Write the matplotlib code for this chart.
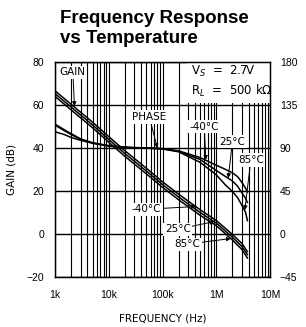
import matplotlib
matplotlib.use('Agg')
import matplotlib.pyplot as plt
from matplotlib.ticker import LogLocator, FixedLocator, NullFormatter

plt.rcParams['font.family'] = ['Liberation Sans', 'DejaVu Sans']

# gain (dB) vs frequency for three temperatures
freq = [1e3, 2e3, 5e3, 1e4, 2e4, 5e4, 1e5, 2e5, 5e5, 1e6, 2e6, 3e6, 3.8e6]
gain_m40 = [66.6, 60.3, 52.0, 45.3, 38.7, 30.6, 24.3, 18.5, 11.3, 6.3, -0.2, -4.4, -8.2]
gain_25 = [65.3, 59.0, 50.7, 44.0, 37.4, 29.3, 23.0, 17.2, 10.0, 5.1, -1.5, -5.8, -9.6]
gain_85 = [64.0, 57.7, 49.4, 42.7, 36.1, 28.0, 21.7, 15.9, 8.7, 3.9, -2.8, -7.2, -11.2]

# phase (deg)
ph_freq = [1e3, 1.5e3, 2e3, 3e3, 5e3, 1e4, 2e4, 5e4, 1e5, 2e5, 5e5, 1e6, 1.5e6, 2e6, 2.5e6, 3e6, 3.5e6, 3.8e6]
phase_m40 = [115, 109, 105, 99.5, 95.5, 92.5, 91, 90, 89.5, 87, 80, 72, 67.5, 64, 60, 54, 48, 44]
phase_25 = [114, 108, 104, 99, 95.2, 92, 90.5, 90, 89.2, 86.5, 78, 66.5, 60, 55.5, 50, 43, 37.5, 33]
phase_85 = [107, 104, 101, 98, 95, 92, 90.5, 89.8, 89, 86, 75, 62, 51, 44.5, 38, 30, 23, 14]

gain_ticks = [-20, 0, 20, 40, 60, 80]
phase_ticks = [-45, 0, 45, 90, 135, 180]
x_ticks = [1e3, 1e4, 1e5, 1e6, 1e7]
x_labels = ['1k', '10k', '100k', '1M', '10M']

fig = plt.figure(figsize=(3.06, 3.27), dpi=100)
ax = fig.add_axes([55/306, 1-277/327, 215/306, 215/327])
ax.set_xscale('log')
ax.set_xlim(1e3, 1e7)
ax.set_ylim(-20, 80)
ax.set_xticks(x_ticks)
ax.set_xticklabels(x_labels)
ax.xaxis.set_minor_locator(LogLocator(base=10, subs=range(2, 10)))
ax.xaxis.set_minor_formatter(NullFormatter())
ax.set_yticks(gain_ticks)
ax.grid(True, which='both', axis='x', color='k', lw=0.8)
ax.grid(True, which='major', axis='y', color='k', lw=1.0)
ax.tick_params(which='both', length=0, labelsize=7.5)
ax.tick_params(axis='y', pad=8)
ax.tick_params(axis='x', pad=9)
for s in ax.spines.values():
    s.set_linewidth(1.0)

for g in [gain_m40, gain_25, gain_85]:
    ax.plot(freq, g, color='k', lw=1.1, zorder=4)

ax.set_xlabel('FREQUENCY (Hz)', fontsize=7.5, labelpad=10, family='DejaVu Sans')
ax.set_ylabel('GAIN (dB)', fontsize=7.5, labelpad=7, family='DejaVu Sans')

box = dict(boxstyle='square,pad=0.15', fc='white', ec='none')
arw = dict(arrowstyle='-|>', color='k', lw=0.7, mutation_scale=6, shrinkA=0, shrinkB=0)
fs = 7.5
lf = 'DejaVu Sans'

# supply / load condition box, under the frame
ax.text(3.4e5, 71.0, 'V$_S$  =  2.7V\nR$_L$  =  500 k$\\Omega$', ha='left', va='center',
        fontsize=8.5, family=lf, linespacing=1.3,
        bbox=dict(boxstyle='square,pad=0.35', fc='white', ec='none'), zorder=2.4)

ax2 = ax.twinx()
ax2.set_ylim(-45, 180)
ax2.yaxis.set_major_locator(FixedLocator(phase_ticks))
ax2.tick_params(length=0, labelsize=7.5, pad=7)
for p in [phase_m40, phase_25, phase_85]:
    ax2.plot(ph_freq, p, color='k', lw=1.1, zorder=4)
ax2.set_ylabel('PHASE (°)', fontsize=7.5, rotation=270, labelpad=16, family='DejaVu Sans')

ax.annotate('GAIN', xy=(2300, 59.5), xytext=(2150, 75.3), ha='center', va='center',
            fontsize=fs, family=lf, bbox=box, arrowprops=arw)
ax.annotate('-40°C', xy=(4.2e5, 12.8), xytext=(5.0e4, 11.5), ha='center', va='center',
            fontsize=fs, family=lf, bbox=box, arrowprops=arw)
ax.annotate('25°C', xy=(9.2e5, 5.8), xytext=(1.92e5, 2.2), ha='center', va='center',
            fontsize=fs, family=lf, bbox=box, arrowprops=arw)
ax.annotate('85°C', xy=(1.87e6, -2.1), xytext=(2.94e5, -4.7), ha='center', va='center',
            fontsize=fs, family=lf, bbox=box, arrowprops=arw)

ax2.annotate('PHASE', xy=(8.0e4, 90), xytext=(5.7e4, 122.4), ha='center', va='center',
             fontsize=fs, family=lf, bbox=box, arrowprops=arw)
ax2.annotate('-40°C', xy=(6.4e5, 77.5), xytext=(6.0e5, 112.3), ha='center', va='center',
             fontsize=fs, family=lf, bbox=box, arrowprops=arw)
ax2.annotate('25°C', xy=(1.67e6, 58.5), xytext=(2.0e6, 96.6), ha='center', va='center',
             fontsize=fs, family=lf, bbox=box, arrowprops=arw)
ax2.annotate('85°C', xy=(3.4e6, 25), xytext=(4.4e6, 77.4), ha='center', va='center',
             fontsize=fs, family=lf, bbox=box, arrowprops=arw)

fig.text(60/306, 1-22.7/327, 'Frequency Response', fontsize=13.5, fontweight='bold', va='baseline')
fig.text(60/306, 1-43.3/327, 'vs Temperature', fontsize=13.5, fontweight='bold', va='baseline')

fig.savefig('out.png', dpi=100)
